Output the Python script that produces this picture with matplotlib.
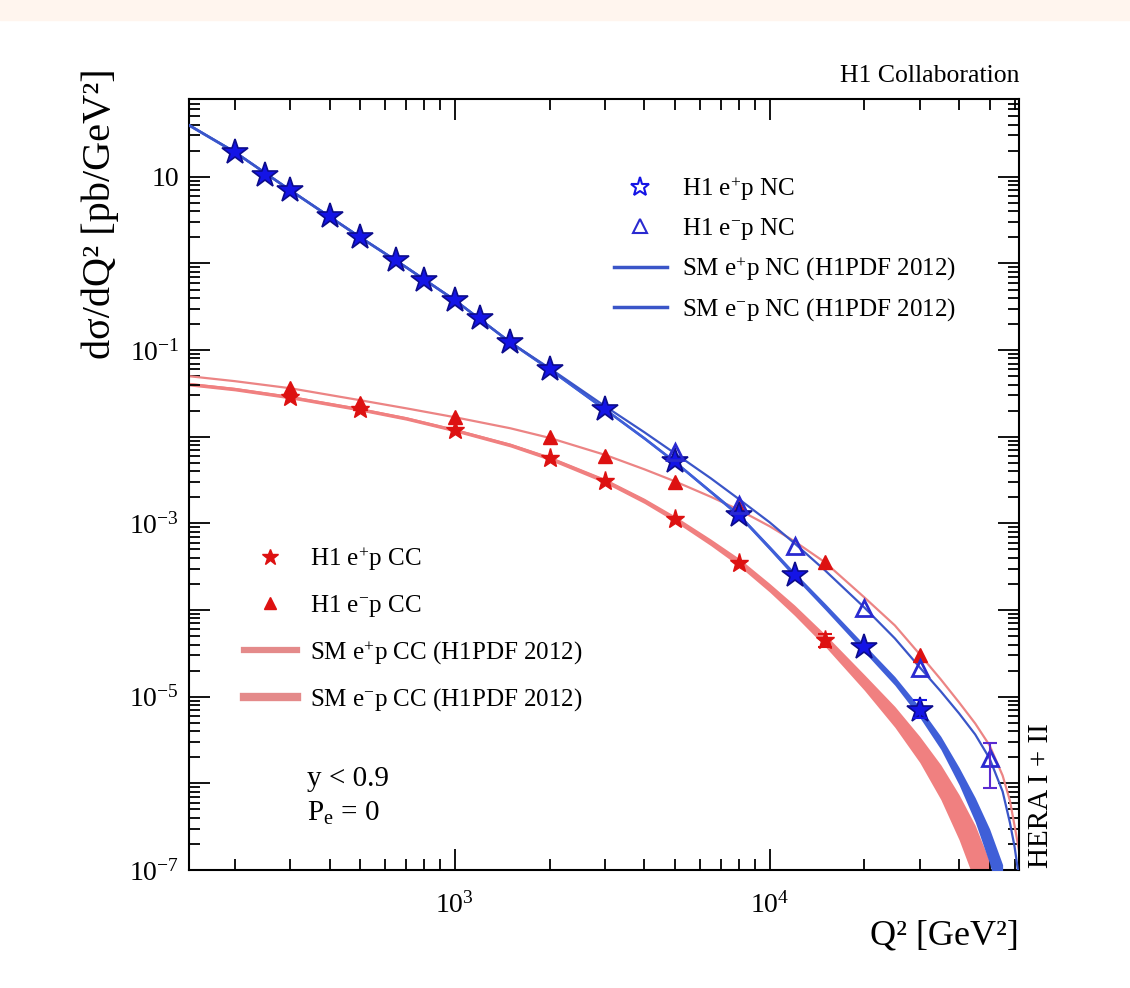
import matplotlib
matplotlib.use('Agg')
import matplotlib.pyplot as plt
import numpy as np
from matplotlib.lines import Line2D
from matplotlib.patches import Rectangle
from matplotlib.ticker import FixedLocator, LogLocator, NullFormatter

plt.rcParams['font.family'] = 'Liberation Serif'
plt.rcParams['mathtext.fontset'] = 'custom'
plt.rcParams['mathtext.rm'] = 'Liberation Serif'
plt.rcParams['mathtext.it'] = 'Liberation Serif:italic'
plt.rcParams['mathtext.bf'] = 'Liberation Serif:bold'

# --- H1 data points ---
q2_nc_ep = [200, 250, 300, 400, 500, 650, 800, 1000, 1200, 1500, 2000, 3000, 5000, 8000, 12000, 20000, 30000]
xs_nc_ep = [19.3, 10.5, 7.0, 3.52, 2.01, 1.09, 0.641, 0.377, 0.233, 0.123, 0.0601, 0.0207,
            5.21e-3, 1.24e-3, 2.51e-4, 3.70e-5, 6.94e-6]

q2_nc_em = [5000, 8000, 12000, 20000, 30000, 50000]
xs_nc_em = [6.62e-3, 1.62e-3, 5.43e-4, 1.07e-4, 2.12e-5, 1.94e-6]

q2_cc_ep = [300, 500, 1000, 2000, 3000, 5000, 8000, 15000]
xs_cc_ep = [0.0286, 0.0207, 0.0119, 5.65e-3, 3.06e-3, 1.11e-3, 3.46e-4, 4.47e-5]

q2_cc_em = [300, 500, 1000, 2000, 3000, 5000, 8000, 15000, 30000]
xs_cc_em = [0.0363, 0.0244, 0.0168, 9.86e-3, 5.95e-3, 2.98e-3, 1.49e-3, 3.55e-4, 2.99e-5]

# points with visible error bars (Q2, value, err down, err up)
err_nc_ep = ([30000], [6.94e-6], [1.3e-6], [2.1e-6])
err_nc_em = ([50000], [1.94e-6], [1.05e-6], [1.02e-6])
err_cc_ep = ([15000], [4.47e-5], [7e-6], [8e-6])

# --- SM predictions (H1PDF 2012) ---
q2_curve = [143, 200, 300, 500, 700, 1000, 1500, 2000, 3000, 4000, 5000, 6500, 8000, 10000,
            12000, 15000, 20000, 25000, 30000, 35000, 40000, 45000, 50000, 55000, 58000, 60000, 62000]

sm_nc_em = [39.5, 19.3, 7.0, 2.01, 0.906, 0.377, 0.123, 0.0618, 0.0225, 0.01127, 6.44e-3, 3.32e-3,
            1.90e-3, 1.03e-3, 5.89e-4, 2.87e-4, 1.07e-4, 4.71e-5, 2.18e-5, 1.15e-5, 6.41e-6,
            3.67e-6, 1.94e-6, 8.05e-7, 3.53e-7, 1.87e-7, 8.2e-8]

q2_cc_em_curve = q2_curve + [65000]
sm_cc_em = [0.0500, 0.0438, 0.0363, 0.0264, 0.0213, 0.0168, 0.01253, 9.70e-3, 6.18e-3, 4.21e-3,
            3.06e-3, 2.03e-3, 1.43e-3, 9.27e-4, 6.21e-4, 3.55e-4, 1.40e-4, 6.65e-5, 3.08e-5,
            1.58e-5, 8.59e-6, 4.91e-6, 2.74e-6, 1.23e-6, 6.33e-7, 3.26e-7, 1.68e-7, 5.80e-8]

q2_nc_ep_curve = q2_curve[:24]
sm_nc_ep = [39.5, 19.3, 7.0, 2.01, 0.906, 0.377, 0.123, 0.0601, 0.0207, 9.61e-3, 5.13e-3, 2.32e-3,
            1.24e-3, 5.23e-4, 2.55e-4, 1.10e-4, 3.61e-5, 1.52e-5, 6.59e-6, 2.93e-6, 1.21e-6,
            4.95e-7, 1.88e-7, 6.18e-8]
# uncertainty of the e+p NC band, in decades
sm_nc_ep_unc = [0.018, 0.018, 0.018, 0.018, 0.018, 0.018, 0.018, 0.018, 0.018, 0.018, 0.018, 0.02,
                0.023, 0.027, 0.031, 0.036, 0.043, 0.05, 0.06, 0.075, 0.1, 0.14, 0.2, 0.27]

q2_cc_ep_curve = q2_curve[:23]
sm_cc_ep = [0.0404, 0.0354, 0.0286, 0.0207, 0.01626, 0.0119, 8.02e-3, 5.65e-3, 3.10e-3, 1.82e-3,
            1.13e-3, 6.05e-4, 3.56e-4, 1.81e-4, 9.95e-5, 4.47e-5, 1.46e-5, 5.85e-6, 2.46e-6,
            1.03e-6, 4.06e-7, 1.53e-7, 5.00e-8]
sm_cc_ep_unc = [0.02, 0.02, 0.02, 0.02, 0.02, 0.02, 0.022, 0.024, 0.027, 0.03, 0.033, 0.038, 0.045,
                0.05, 0.06, 0.07, 0.09, 0.12, 0.15, 0.2, 0.26, 0.33, 0.4]

blue_line = '#3a55c8'
blue_band = '#3f5fd8'
blue_mk = '#1414e6'
blue_edge = '#0c0c8c'
red_line = '#ec8484'
red_band = '#f08080'
red_mk = '#dd1111'

fig = plt.figure(figsize=(11.3, 9.88), dpi=100)
fig.patches.append(Rectangle((0, 1 - 20 / 988), 1, 20 / 988, transform=fig.transFigure,
                             color='#fff5ee', zorder=0))
ax = fig.add_axes([189 / 1130, 1 - 870 / 988, 830 / 1130, 770.5 / 988])

# SM curves
c = np.array(sm_cc_ep)
u = 10 ** np.array(sm_cc_ep_unc)
ax.fill_between(q2_cc_ep_curve, c / u, c * u, color=red_band, lw=0, zorder=1)
ax.plot(q2_cc_ep_curve, c, color=red_band, lw=2, zorder=1)
ax.plot(q2_cc_em_curve, sm_cc_em, color=red_line, lw=1.6, zorder=2)

c = np.array(sm_nc_ep)
u = 10 ** np.array(sm_nc_ep_unc)
ax.fill_between(q2_nc_ep_curve, c / u, c * u, color=blue_band, lw=0, zorder=3)
ax.plot(q2_nc_ep_curve, c, color=blue_band, lw=1.8, zorder=3)
ax.plot(q2_curve, sm_nc_em, color=blue_line, lw=1.6, zorder=4)

# data
ax.plot(q2_cc_ep, xs_cc_ep, ls='none', marker='*', ms=14, color=red_mk, mec=red_mk, zorder=5)
ax.plot(q2_cc_em, xs_cc_em, ls='none', marker='^', ms=10, color=red_mk, mec=red_mk, zorder=5)
ax.plot(q2_nc_ep, xs_nc_ep, ls='none', marker='*', ms=19, color=blue_mk, mec=blue_edge, mew=1.2, zorder=6)
ax.plot(q2_nc_em, xs_nc_em, ls='none', marker='^', ms=12, mfc='none', mec='#2a2ad0', mew=2, zorder=7)

ax.errorbar(err_cc_ep[0], err_cc_ep[1], yerr=[err_cc_ep[2], err_cc_ep[3]], fmt='none',
            ecolor=red_mk, elinewidth=1.5, capsize=5, capthick=1.5, zorder=5)
ax.errorbar(err_nc_ep[0], err_nc_ep[1], yerr=[err_nc_ep[2], err_nc_ep[3]], fmt='none',
            ecolor=blue_mk, elinewidth=1.5, capsize=5, capthick=1.5, zorder=6)
ax.errorbar(err_nc_em[0], err_nc_em[1], yerr=[err_nc_em[2], err_nc_em[3]], fmt='none',
            ecolor='#5a2ad0', elinewidth=1.5, capsize=5, capthick=1.5, zorder=7)

# axes
ax.set_xscale('log')
ax.set_yscale('log')
ax.set_xlim(143, 62000)
ax.set_ylim(1e-7, 78)

ax.xaxis.set_major_locator(FixedLocator([1e3, 1e4]))
ax.set_xticklabels([r'10$^{3}$', r'10$^{4}$'])
ax.xaxis.set_minor_locator(LogLocator(base=10, subs=np.arange(2, 10), numticks=20))
ax.xaxis.set_minor_formatter(NullFormatter())

y_major = [1e-7, 1e-6, 1e-5, 1e-4, 1e-3, 1e-2, 1e-1, 1, 10]
y_labels = [r'10$^{-7}$', '', r'10$^{-5}$', '', r'10$^{-3}$', '', r'10$^{-1}$', '', '10']
ax.yaxis.set_major_locator(FixedLocator(y_major))
ax.set_yticklabels(y_labels)
ax.yaxis.set_minor_locator(LogLocator(base=10, subs=np.arange(2, 10), numticks=20))
ax.yaxis.set_minor_formatter(NullFormatter())

ax.tick_params(which='both', direction='in', top=True, right=True, width=1.3, labelsize=20)
ax.tick_params(which='major', length=15)
ax.tick_params(which='minor', length=8)
ax.tick_params(axis='x', pad=16)
ax.tick_params(axis='y', pad=7)
for s in ax.spines.values():
    s.set_linewidth(1.5)

fig.text(1019 / 1130, 1 - 936 / 988, 'Q² [GeV²]', ha='right', va='center', fontsize=26)
fig.text(100 / 1130, 1 - 68 / 988, 'dσ/dQ² [pb/GeV²]', ha='center', va='top', rotation=90, fontsize=29)
fig.text(1019 / 1130, 1 - 76 / 988, 'H1 Collaboration', ha='right', va='center', fontsize=18.5)
fig.text(1041 / 1130, 1 - 868 / 988, 'HERA I + II', ha='center', va='bottom', rotation=90, fontsize=21)
ax.text(0.142, 0.118, 'y < 0.9', transform=ax.transAxes, fontsize=21, ha='left', va='center')
ax.text(0.142, 0.073, r'P$_{\rm e}$ = 0', transform=ax.transAxes, fontsize=21, ha='left', va='center')

# legends
h_nc = [Line2D([], [], ls='none', marker='*', ms=14, mfc='white', mec=blue_mk, mew=1.5),
        Line2D([], [], ls='none', marker='^', ms=10, mfc='none', mec='#2a2ad0', mew=1.5),
        Line2D([], [], color=blue_line, lw=2.5),
        Line2D([], [], color=blue_line, lw=2.5)]
l_nc = [r'H1 e$^{+}$p NC', r'H1 e$^{-}$p NC',
        r'SM e$^{+}$p NC (H1PDF 2012)', r'SM e$^{-}$p NC (H1PDF 2012)']
leg1 = ax.legend(h_nc, l_nc, loc='upper left', bbox_to_anchor=(614 / 1130, 1 - 175 / 988),
                 bbox_transform=fig.transFigure, frameon=False, fontsize=18, handlelength=2.1,
                 handletextpad=0.6, labelspacing=0.53, borderpad=0, borderaxespad=0)
ax.add_artist(leg1)

h_cc = [Line2D([], [], ls='none', marker='*', ms=12, color=red_mk),
        Line2D([], [], ls='none', marker='^', ms=9, color=red_mk),
        Line2D([], [], color='#e48a8a', lw=4.5),
        Line2D([], [], color='#e48a8a', lw=6)]
l_cc = [r'H1 e$^{+}$p CC', r'H1 e$^{-}$p CC',
        r'SM e$^{+}$p CC (H1PDF 2012)', r'SM e$^{-}$p CC (H1PDF 2012)']
ax.legend(h_cc, l_cc, loc='upper left', bbox_to_anchor=(244 / 1130, 1 - 545 / 988),
          bbox_transform=fig.transFigure, frameon=False, fontsize=18, handlelength=2.1,
          handletextpad=0.55, labelspacing=0.8, borderpad=0, borderaxespad=0)

fig.savefig('out.png', dpi=100)
